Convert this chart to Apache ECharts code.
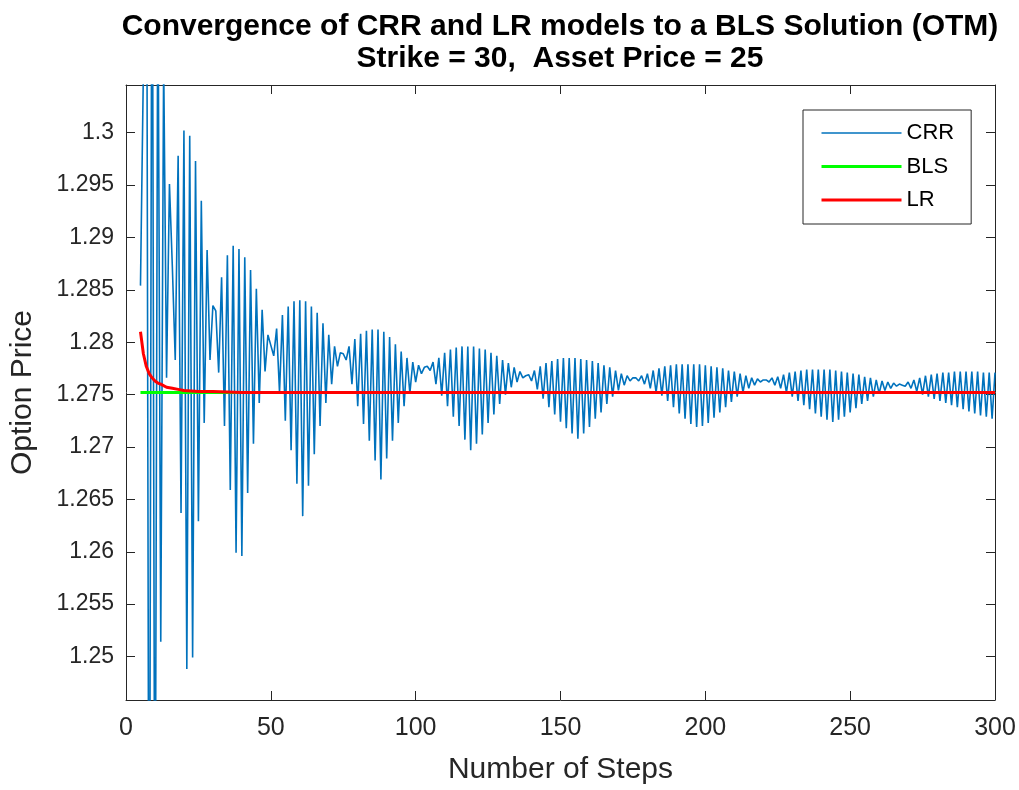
<!DOCTYPE html>
<html><head><meta charset="utf-8">
<script src="https://cdn.jsdelivr.net/npm/echarts@6/dist/echarts.min.js"></script>
<style>html,body{margin:0;padding:0;background:#fff}#c{width:1019px;height:790px}</style>
</head><body><div id="c"></div>
<script>
const titleLines = ['Convergence of CRR and LR models to a BLS Solution (OTM)', 'Strike = 30,  Asset Price = 25'];
const xAxisName = 'Number of Steps';
const yAxisName = 'Option Price';
const seriesNames = ['CRR', 'BLS', 'LR'];

// CRR price for steps 5..300 (one value per step)
const crrFirstStep = 5;
const crrPrice = [
  1.2854, 1.3060, 1.3400, 1.2100, 1.3320, 1.2200, 1.3180, 1.2514, 1.3070, 1.2766,
  1.2951, 1.2872, 1.2783, 1.2978, 1.2637, 1.3002, 1.2488, 1.2997, 1.2499, 1.2973,
  1.2629, 1.2935, 1.2723, 1.2888, 1.2783, 1.2835, 1.2830, 1.2771, 1.2862, 1.2720,
  1.2883, 1.2659, 1.2892, 1.2599, 1.2889, 1.2596, 1.2881, 1.2656, 1.2869, 1.2703,
  1.2851, 1.2742, 1.2831, 1.2772, 1.2807, 1.2797, 1.2787, 1.2813, 1.2752, 1.2826,
  1.2725, 1.2834, 1.2697, 1.2839, 1.2665, 1.2840, 1.2634, 1.2839, 1.2663, 1.2834,
  1.2693, 1.2828, 1.2720, 1.2818, 1.2742, 1.2807, 1.2760, 1.2796, 1.2777, 1.2790,
  1.2789, 1.2783, 1.2796, 1.2760, 1.2803, 1.2739, 1.2808, 1.2722, 1.2811, 1.2706,
  1.2812, 1.2687, 1.2812, 1.2669, 1.2810, 1.2689, 1.2805, 1.2706, 1.2798, 1.2723,
  1.2791, 1.2739, 1.2785, 1.2751, 1.2781, 1.2762, 1.2778, 1.2770, 1.2776, 1.2777,
  1.2773, 1.2781, 1.2760, 1.2785, 1.2749, 1.2790, 1.2739, 1.2793, 1.2729, 1.2795,
  1.2720, 1.2796, 1.2707, 1.2796, 1.2697, 1.2796, 1.2703, 1.2794, 1.2712, 1.2793,
  1.2723, 1.2790, 1.2731, 1.2787, 1.2741, 1.2783, 1.2750, 1.2780, 1.2757, 1.2776,
  1.2762, 1.2772, 1.2766, 1.2768, 1.2769, 1.2763, 1.2773, 1.2755, 1.2777, 1.2746,
  1.2780, 1.2738, 1.2782, 1.2731, 1.2784, 1.2724, 1.2785, 1.2718, 1.2785, 1.2713,
  1.2785, 1.2708, 1.2784, 1.2713, 1.2783, 1.2719, 1.2782, 1.2727, 1.2780, 1.2733,
  1.2778, 1.2741, 1.2776, 1.2748, 1.2773, 1.2754, 1.2770, 1.2759, 1.2768, 1.2763,
  1.2766, 1.2766, 1.2763, 1.2768, 1.2760, 1.2770, 1.2756, 1.2773, 1.2752, 1.2775,
  1.2749, 1.2777, 1.2744, 1.2778, 1.2738, 1.2779, 1.2732, 1.2779, 1.2727, 1.2779,
  1.2722, 1.2779, 1.2719, 1.2779, 1.2720, 1.2778, 1.2723, 1.2777, 1.2728, 1.2776,
  1.2733, 1.2775, 1.2738, 1.2773, 1.2743, 1.2772, 1.2748, 1.2770, 1.2752, 1.2768,
  1.2756, 1.2766, 1.2759, 1.2765, 1.2762, 1.2764, 1.2764, 1.2762, 1.2766, 1.2759,
  1.2767, 1.2756, 1.2769, 1.2752, 1.2771, 1.2748, 1.2772, 1.2744, 1.2773, 1.2740,
  1.2774, 1.2736, 1.2774, 1.2732, 1.2774, 1.2729, 1.2774, 1.2726, 1.2774, 1.2724,
  1.2773, 1.2726, 1.2772, 1.2729, 1.2771, 1.2733, 1.2770, 1.2737, 1.2769, 1.2741,
  1.2767, 1.2744, 1.2766, 1.2748, 1.2764, 1.2751, 1.2763, 1.2754, 1.2762, 1.2756,
  1.2761, 1.2758, 1.2760, 1.2759, 1.2758, 1.2762, 1.2756, 1.2764, 1.2753, 1.2766,
  1.2750, 1.2768, 1.2748, 1.2769, 1.2746, 1.2770, 1.2744, 1.2771, 1.2742, 1.2771,
  1.2740, 1.2772, 1.2738, 1.2772, 1.2736, 1.2772, 1.2734, 1.2772, 1.2732, 1.2772,
  1.2730, 1.2771, 1.2729, 1.2771, 1.2727, 1.2771
];

const blsSteps = [5, 300];
const blsPrice = [1.2752, 1.2752];

const lrSteps = [5, 6, 7, 8, 9, 10, 11, 12, 14, 16, 18, 20, 25, 30, 40, 50, 75, 100, 150, 200, 250, 300];
const lrPrice = [1.2810, 1.2789, 1.2777, 1.2770, 1.2766, 1.2763, 1.2761, 1.2760, 1.2757, 1.2756, 1.2755,
                 1.2754, 1.2753, 1.2753, 1.2752, 1.2752, 1.2752, 1.2752, 1.2752, 1.2752, 1.2752, 1.2752];

const xTickValues = [0, 50, 100, 150, 200, 250, 300];
const yTickValues = [1.25, 1.255, 1.26, 1.265, 1.27, 1.275, 1.28, 1.285, 1.29, 1.295, 1.3];
const yRange = [1.24585, 1.30455];
const xRange = [0, 300];

const FONT = '"Liberation Sans", Arial, Helvetica, sans-serif';
const AX = '#262626';
const COLORS = ['#0072BD', '#00FF00', '#FF0000'];
const WIDTHS = [1.6, 3, 3];
const chart = echarts.init(document.getElementById('c'));

const axisLine = { show: true, onZero: false, lineStyle: { color: AX, width: 1 } };
const axisTick = { show: true, inside: true, length: 9, lineStyle: { color: AX, width: 1 } };

const yLabelFmt = v => String(parseFloat(Number(v).toFixed(3)));

const option = {
  animation: false,
  backgroundColor: '#ffffff',
  title: {
    text: titleLines.join('\n'),
    left: 555, top: 6, textAlign: 'center',
    textStyle: { fontFamily: FONT, fontSize: 30, fontWeight: 'bold', color: '#000', lineHeight: 32 }
  },
  grid: { left: 125, right: 24, top: 85, bottom: 85 },
  legend: {
    orient: 'vertical', left: 803, top: 110,
    padding: [12, 17, 13, 17],
    itemWidth: 80, itemHeight: 17, itemGap: 11.5,
    borderColor: '#262626', borderWidth: 1, backgroundColor: '#fff',
    itemStyle: { opacity: 0 },
    textStyle: { fontFamily: FONT, fontSize: 22, color: '#000', lineHeight: 22 },
    data: seriesNames.map((n, i) => ({ name: n, lineStyle: { width: WIDTHS[i], color: COLORS[i] } }))
  },
  xAxis: [
    {
      type: 'value', min: xRange[0], max: xRange[1], position: 'bottom',
      name: xAxisName, nameLocation: 'middle', nameGap: 55,
      nameTextStyle: { fontFamily: FONT, fontSize: 30, color: AX },
      axisLine, axisTick: Object.assign({ customValues: xTickValues }, axisTick),
      axisLabel: { customValues: xTickValues, margin: 16, fontFamily: FONT, fontSize: 25, color: AX },
      splitLine: { show: false }
    },
    {
      type: 'value', min: xRange[0], max: xRange[1], position: 'top',
      axisLine, axisTick: Object.assign({ customValues: xTickValues }, axisTick),
      axisLabel: { show: false }, splitLine: { show: false }
    }
  ],
  yAxis: [
    {
      type: 'value', min: yRange[0], max: yRange[1], position: 'left',
      name: yAxisName, nameLocation: 'middle', nameGap: 88, nameRotate: 90,
      nameTextStyle: { fontFamily: FONT, fontSize: 30, color: AX },
      axisLine, axisTick: Object.assign({ customValues: yTickValues }, axisTick),
      axisLabel: { customValues: yTickValues, formatter: yLabelFmt, margin: 12, fontFamily: FONT, fontSize: 23, color: AX },
      splitLine: { show: false }
    },
    {
      type: 'value', min: yRange[0], max: yRange[1], position: 'right',
      axisLine, axisTick: Object.assign({ customValues: yTickValues }, axisTick),
      axisLabel: { show: false }, splitLine: { show: false }
    }
  ],
  series: [
    {
      name: seriesNames[0], type: 'line', symbol: 'none', clip: true,
      data: crrPrice.map((v, i) => [crrFirstStep + i, v]),
      lineStyle: { color: COLORS[0], width: WIDTHS[0] }, itemStyle: { color: COLORS[0] }
    },
    {
      name: seriesNames[1], type: 'line', symbol: 'none', clip: true,
      data: blsSteps.map((s, i) => [s, blsPrice[i]]),
      lineStyle: { color: COLORS[1], width: WIDTHS[1] }, itemStyle: { color: COLORS[1] }
    },
    {
      name: seriesNames[2], type: 'line', symbol: 'none', clip: true,
      data: lrSteps.map((s, i) => [s, lrPrice[i]]),
      lineStyle: { color: COLORS[2], width: WIDTHS[2] }, itemStyle: { color: COLORS[2] }
    }
  ]
};
chart.setOption(option);
</script></body></html>
